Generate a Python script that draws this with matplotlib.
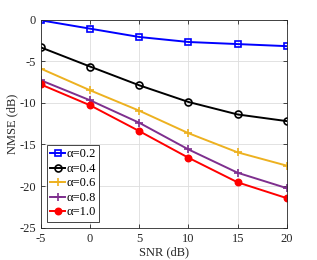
import matplotlib
matplotlib.use("Agg")
import matplotlib.pyplot as plt

snr = [-5, 0, 5, 10, 15, 20]
labels = ["\u03b1=0.2", "\u03b1=0.4", "\u03b1=0.6", "\u03b1=0.8", "\u03b1=1.0"]
nmse_02 = [-0.1, -1.1, -2.1, -2.7, -2.95, -3.2]
nmse_04 = [-3.35, -5.65, -7.9, -9.9, -11.4, -12.2]
nmse_06 = [-5.9, -8.5, -10.95, -13.65, -15.95, -17.55]
nmse_08 = [-7.3, -9.7, -12.4, -15.6, -18.4, -20.25]
nmse_10 = [-7.8, -10.3, -13.4, -16.6, -19.55, -21.45]
xticks = [-5, 0, 5, 10, 15, 20]
yticks = [-25, -20, -15, -10, -5, 0]

plt.rcParams['font.family'] = ['Liberation Serif', 'DejaVu Serif']

fig = plt.figure(figsize=(3.17, 2.60), dpi=100)
ax = fig.add_axes([0.129, 0.124, 0.776, 0.801])

series = [nmse_02, nmse_04, nmse_06, nmse_08, nmse_10]
colors = ['#0000ff', '#000000', '#edb120', '#7e2f8e', '#ff0000']
markers = ['s', 'o', '+', '+', 'o']
mfcs = ['none', 'none', 'none', 'none', '#ff0000']
msizes = [4.5, 5, 6, 6, 4.5]
for y, c, m, mf, ms, lab in zip(series, colors, markers, mfcs, msizes, labels):
    ax.plot(snr, y, color=c, marker=m, mfc=mf, mec=c, ms=ms, lw=1.4, mew=1.2, label=lab)

ax.set_xlim(-5, 20)
ax.set_ylim(-25, 0)
ax.set_xticks(xticks)
ax.set_yticks(yticks)
ax.set_yticklabels([str(v) for v in yticks])
ax.set_xticklabels([str(v) for v in xticks])
ax.grid(True, color='#dddddd', lw=0.6)
ax.set_axisbelow(True)
ax.tick_params(direction='in', top=True, right=True, labelsize=9, length=3, width=0.6, colors='#262626', labelcolor='#262626')
for s in ax.spines.values():
    s.set_linewidth(0.6)
    s.set_color('#262626')
ax.set_xlabel("SNR (dB)", fontsize=9, labelpad=1, color='#262626')
ax.set_ylabel("NMSE (dB)", fontsize=9, labelpad=1, color='#262626')

leg = ax.legend(loc='lower left', fontsize=9, handlelength=1.2, handletextpad=0.1,
                borderpad=0.25, labelspacing=0.2, borderaxespad=0.5, fancybox=False,
                framealpha=1, edgecolor='#262626')
leg.get_frame().set_linewidth(0.6)

fig.savefig("out.png", dpi=100)
